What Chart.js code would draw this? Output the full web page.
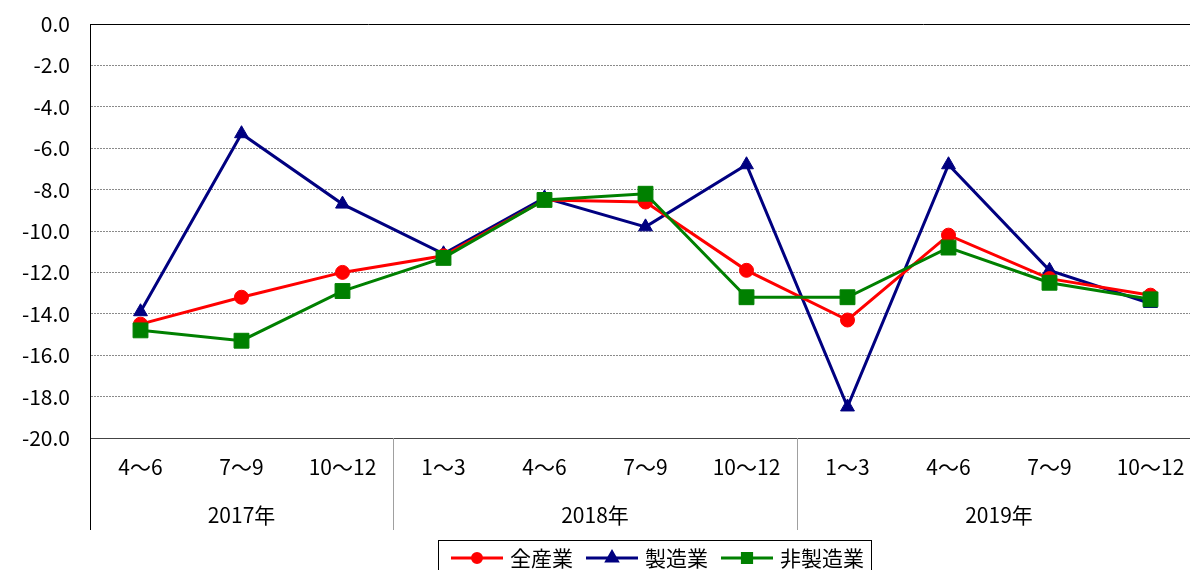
<!DOCTYPE html>
<html>
<head>
<meta charset="utf-8">
<script src="https://cdn.jsdelivr.net/npm/chart.js@4/dist/chart.umd.min.js"></script>
<style>
  html, body { margin: 0; padding: 0; background: #fff; overflow: hidden; }
  #wrap { position: absolute; left: 0; top: 0; width: 1220px; height: 570px; }
</style>
</head>
<body>
<div id="wrap"><canvas id="c" width="1220" height="570"></canvas></div>
<script>
// ── data ─────────────────────────────────────────────
const categories = ['4～6', '7～9', '10～12', '1～3', '4～6', '7～9', '10～12', '1～3', '4～6', '7～9', '10～12'];
const years      = ['2017年', '2018年', '2019年'];
const yearSpans  = [3, 4, 4];

const allIndustries    = [-14.5, -13.2, -12.0, -11.2, -8.5, -8.6, -11.9, -14.3, -10.2, -12.3, -13.1];
const manufacturing    = [-13.9, -5.3, -8.7, -11.1, -8.4, -9.8, -6.8, -18.5, -6.8, -11.9, -13.5];
const nonManufacturing = [-14.8, -15.3, -12.9, -11.3, -8.5, -8.2, -13.2, -13.2, -10.8, -12.5, -13.3];

const seriesNames = ['全産業', '製造業', '非製造業'];

const FONT = '"Noto Sans CJK JP", "Noto Sans", sans-serif';
const COL = { red: '#ff0000', navy: '#000080', green: '#008000' };

// ── group labels, separators and legend ─────────────
const extras = {
  id: 'extras',
  afterDraw(chart) {
    const { ctx, chartArea, scales } = chart;
    const x = scales.x;
    const half = (x.getPixelForValue(1) - x.getPixelForValue(0)) / 2;
    const top = chartArea.bottom, bot = 530;

    ctx.save();
    // left axis line continues down through the label rows
    ctx.strokeStyle = '#000';
    ctx.lineWidth = 1;
    ctx.beginPath();
    ctx.moveTo(chartArea.left + 0.5, top);
    ctx.lineTo(chartArea.left + 0.5, bot);
    ctx.stroke();

    // year separators + year labels
    ctx.font = '21px ' + FONT;
    ctx.fillStyle = '#000';
    ctx.textAlign = 'center';
    ctx.textBaseline = 'middle';
    let start = 0;
    years.forEach((yr, i) => {
      const end = start + yearSpans[i] - 1;
      const cx = (x.getPixelForValue(start) + x.getPixelForValue(end)) / 2;
      ctx.fillText(yr, cx, 515);
      if (i > 0) {
        const sx = Math.round(x.getPixelForValue(start) - half) + 0.5;
        ctx.strokeStyle = '#a0a0a0';
        ctx.beginPath();
        ctx.moveTo(sx, top);
        ctx.lineTo(sx, bot);
        ctx.stroke();
      }
      start = end + 1;
    });

    // legend box
    ctx.strokeStyle = '#000';
    ctx.strokeRect(438.5, 540.5, 433, 40);
    const items = [
      { lx: 451, tx: 510 },
      { lx: 586, tx: 645 },
      { lx: 721, tx: 780 },
    ];
    const ly = 558;
    ctx.textAlign = 'left';
    items.forEach((it, i) => {
      const ds = chart.data.datasets[i];
      ctx.strokeStyle = ds.borderColor;
      ctx.lineWidth = 3;
      ctx.beginPath();
      ctx.moveTo(it.lx, ly);
      ctx.lineTo(it.lx + 52, ly);
      ctx.stroke();
      const r = ds.pointStyle === 'rect' ? 6.5 : ds.pointStyle === 'triangle' ? 6 : 4.5;
      Chart.helpers.drawPoint(ctx, {
        pointStyle: ds.pointStyle, radius: r, rotation: 0, borderWidth: 1
      }, it.lx + 26, ly);
      ctx.fillStyle = ds.backgroundColor;
      ctx.fill();
      ctx.fillStyle = '#000';
      ctx.font = '21px ' + FONT;
      ctx.fillText(seriesNames[i], it.tx, ly);
    });
    ctx.restore();
  }
};

const mkSet = (label, data, color, style, radius, order) => ({
  label, data,
  borderColor: color,
  backgroundColor: color,
  borderWidth: 3,
  pointStyle: style,
  pointRadius: radius,
  pointHoverRadius: radius,
  pointBackgroundColor: color,
  pointBorderColor: color,
  pointBorderWidth: 1,
  tension: 0,
  order,
});

new Chart(document.getElementById('c'), {
  type: 'line',
  data: {
    labels: categories,
    datasets: [
      mkSet(seriesNames[0], allIndustries, COL.red, 'circle', 7, 1),
      mkSet(seriesNames[1], manufacturing, COL.navy, 'triangle', 8, 2),
      mkSet(seriesNames[2], nonManufacturing, COL.green, 'rect', 10.5, 0),
    ],
  },
  options: {
    responsive: false,
    animation: false,
    devicePixelRatio: 1,
    layout: { padding: { top: 24, right: 19, left: 0, bottom: 0 } },
    plugins: { legend: { display: false }, tooltip: { enabled: false } },
    scales: {
      x: {
        offset: true,
        grid: { display: false, drawTicks: false },
        border: { display: true, color: '#444', width: 1 },
        ticks: { color: '#000', font: { family: FONT, size: 21 }, padding: 16, maxRotation: 0, autoSkip: false },
        afterFit: s => { s.height = 132; s.paddingLeft = 0; s.paddingRight = 0; },
      },
      y: {
        min: -20, max: 0,
        grid: {
          drawTicks: false,
          color: c => c.tick && c.tick.value === 0 ? '#000' : '#8a8a8a',
          lineWidth: 1,
        },
        border: {
          display: true, color: '#000', width: 1,
          dash: c => c.tick && c.tick.value > -20 && c.tick.value < 0 ? [2, 1] : [],
        },
        ticks: {
          stepSize: 2, color: '#000', padding: 20,
          font: { family: FONT, size: 21 },
          callback: v => v.toFixed(1),
        },
        afterFit: s => { s.width = 90; s.paddingTop = 0; s.paddingBottom = 0; },
      },
    },
  },
  plugins: [extras],
});
</script>
</body>
</html>
